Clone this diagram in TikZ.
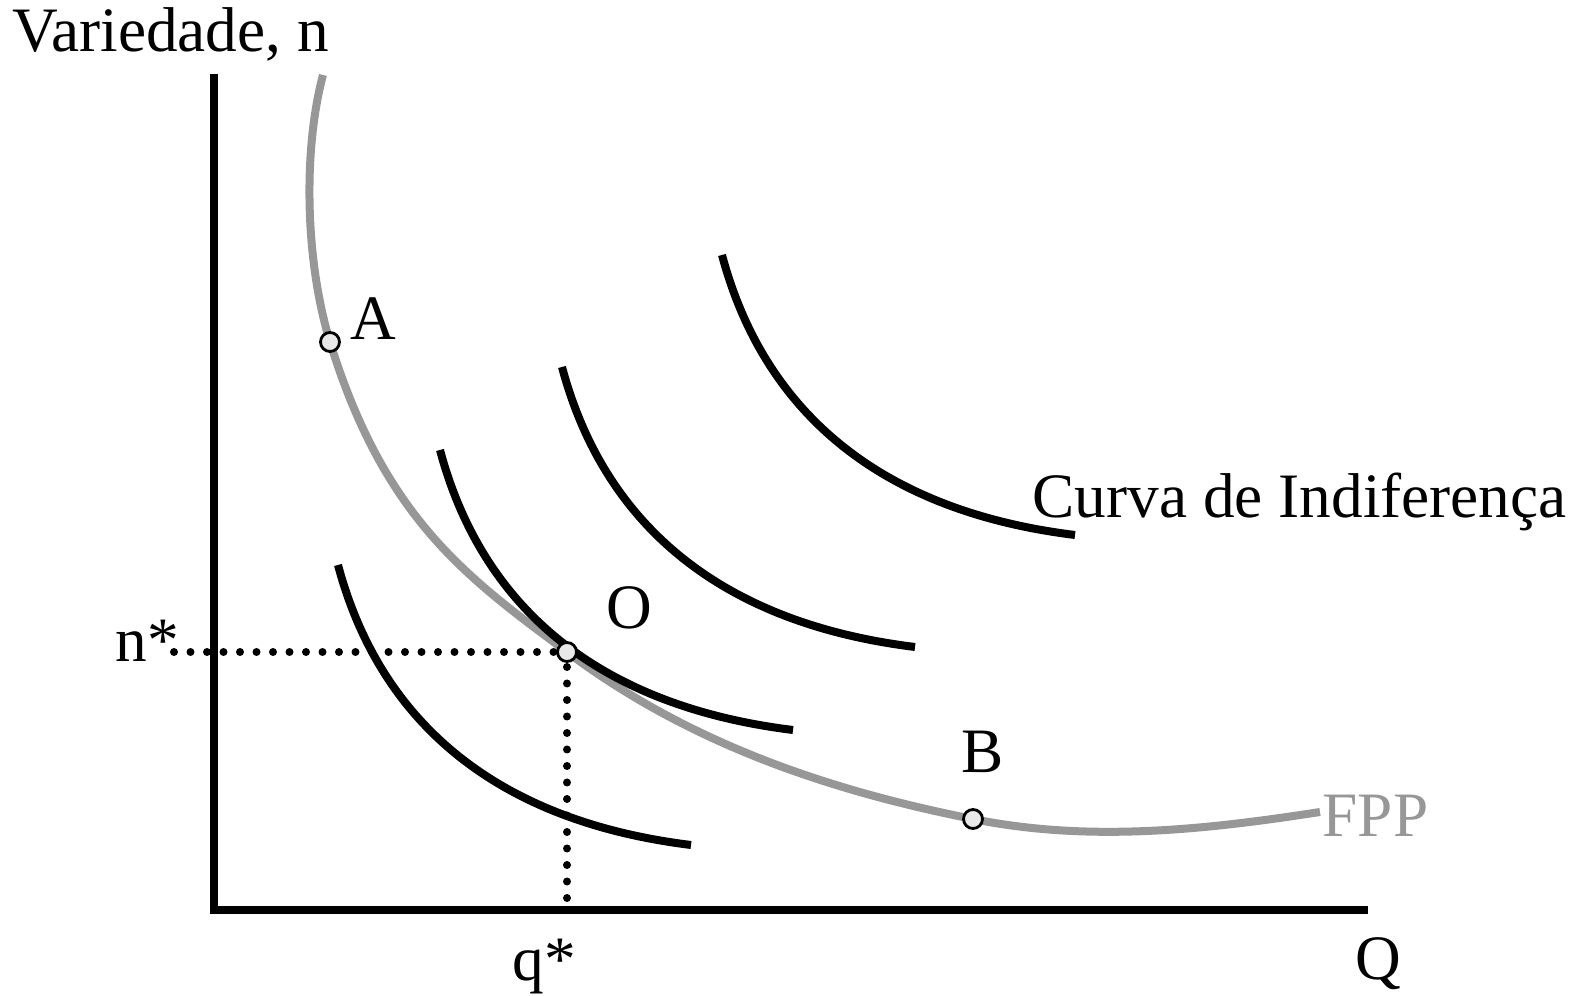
\documentclass[tikz,border=0pt]{standalone}
\usepackage{fontspec}
\setmainfont{Liberation Serif}
\usepackage{tikz}
\usetikzlibrary{positioning}
\definecolor{fppgray}{HTML}{979797}
\definecolor{markfill}{HTML}{E8E8E8}
\tikzset{
  axisline/.style={line width=0.8mm,line join=miter},
  fppcurve/.style={draw=fppgray,line width=0.8mm},
  indiffcurve/.style={line width=0.8mm},
  guideline/.style={line width=0.8mm,line cap=round,dash pattern=on 0pt off 1.65mm},
  pointmark/.style={circle,draw,fill=markfill,line width=0.8pt,inner sep=0pt,minimum size=1.9mm},
  plotlabel/.style={font=\fontsize{18}{21}\selectfont,anchor=base west,inner sep=0pt}
}

\begin{document}
\begin{tikzpicture}[x=0.1mm,y=-0.1mm]
  \useasboundingbox (0,0) rectangle (1589,996);

  % eixos
  \draw[axisline] (214,74) |- (1368,910);
  \node[plotlabel] (ylabel) at (12,52) {Variedade, n};
  \node[plotlabel] (xlabel) at (1355,980) {Q};

  % fronteira de possibilidades de producao
  \draw[fppcurve] (323,75) .. controls (303,150) and (305,260) .. (330,342)
    .. controls (385,520) and (468,578) .. (567,652)
    .. controls (687,742) and (826,790) .. (973,819)
    .. controls (1091,843) and (1210,829) .. (1320,812);
  \node[plotlabel,fppgray] (fpp) at (1322,837) {FPP};

  % curvas de indiferenca
  \foreach \sx/\sy in {338/565, 440/450, 562/367, 722/255} {
    \begin{scope}[shift={(\sx,\sy)}]
      \draw[indiffcurve] (0,0) .. controls (40,150) and (150,255) .. (353,280);
    \end{scope}
  }
  \node[plotlabel] (ci) at (1032,518) {Curva de Indiferença};

  % otimo
  \coordinate (A) at (330,342);
  \coordinate (O) at (567,652);
  \coordinate (B) at (973,819);
  \node[plotlabel] (nstar) at (115,662) {n*};
  \node[plotlabel] (qstar) at (512,981) {q*};
  \coordinate (ndot) at (174,652);
  \coordinate (qdot) at (567,898);
  \draw[guideline] (ndot) -- (O);
  \draw[guideline] (qdot) -- (O);

  \node[pointmark] (ptA) at (A) {};
  \node[pointmark] (ptO) at (O) {};
  \node[pointmark] (ptB) at (B) {};
  \node[plotlabel] (labA) at (350,340) {A};
  \node[plotlabel] (labO) at (606,629) {O};
  \node[plotlabel] (labB) at (961,773) {B};
\end{tikzpicture}
\end{document}
